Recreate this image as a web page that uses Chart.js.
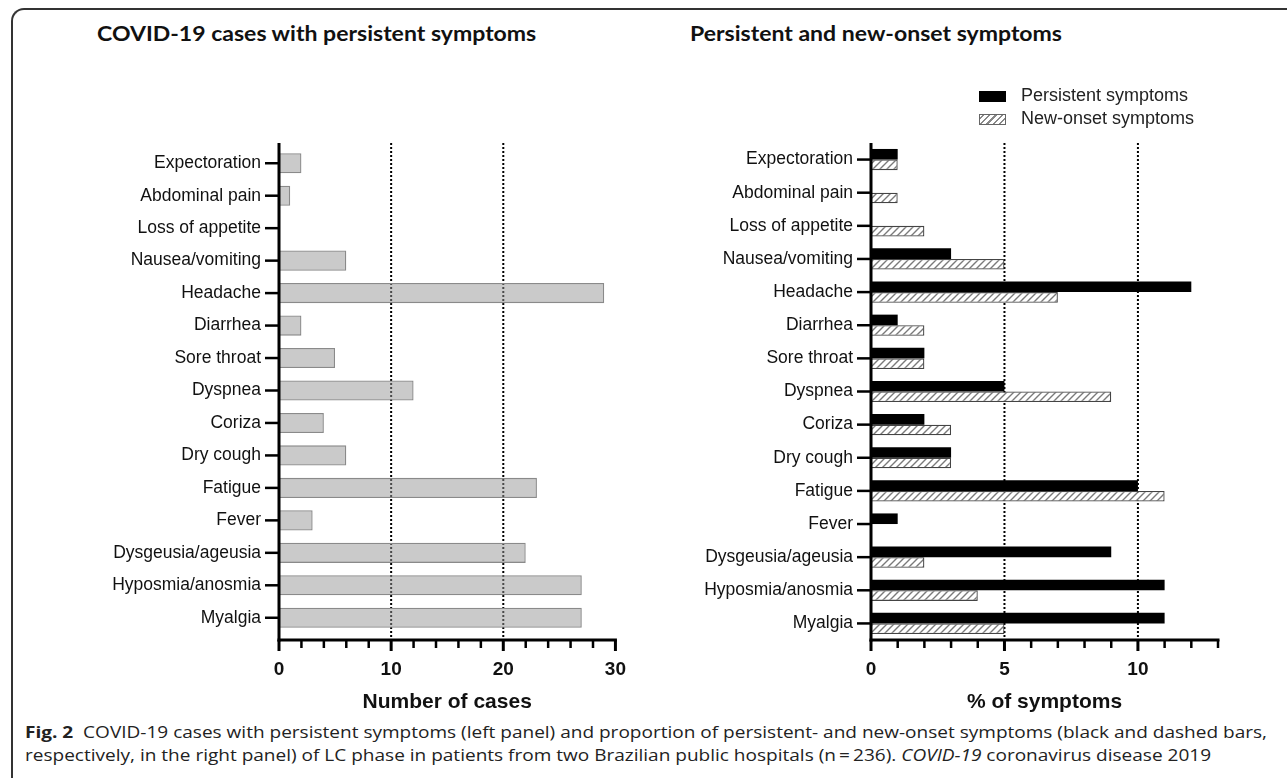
<!DOCTYPE html>
<html>
<head>
<meta charset="utf-8">
<script src="https://cdn.jsdelivr.net/npm/chart.js@4.4.0/dist/chart.umd.min.js"></script>
<style>
  body { margin:0; width:1287px; height:778px; background:#fff; position:relative; overflow:hidden; font-family:"Liberation Sans", Arial, sans-serif; }
  .frame { position:absolute; left:11px; top:8px; right:-10px; bottom:-10px; border-top:2px solid #333; border-left:2px solid #333; border-top-left-radius:13px; }
  .panel-title { position:absolute; top:22px; font-family:Lato, "Open Sans", sans-serif; font-weight:700; font-size:21px; line-height:21px; color:#111; white-space:nowrap; transform-origin:left top; }
  #box1 { position:absolute; left:0; top:0; width:650px; height:720px; }
  #box2 { position:absolute; left:650px; top:0; width:637px; height:720px; }
  .legend { position:absolute; left:979px; top:84px; font-size:18px; color:#222; line-height:23px; }
  .legend .sw { display:inline-block; width:27px; height:11px; margin-right:15px; vertical-align:-1px; box-sizing:border-box; }
  .sw.black { background:#000; }
  .sw.hatch { border:1.5px solid #666; background:repeating-linear-gradient(-45deg, #fff 0 3px, #888 3px 4.5px); }
  .caption { position:absolute; left:25px; top:721px; font-family:"Open Sans", sans-serif; font-size:16px; line-height:23px; color:#222; white-space:nowrap; transform-origin:left top; }
</style>
</head>
<body>
<div class="frame"></div>
<div class="panel-title" id="title1" style="left:97px">COVID-19 cases with persistent symptoms</div>
<div class="panel-title" id="title2" style="left:690px">Persistent and new-onset symptoms</div>
<div id="box1"><canvas id="leftChart"></canvas></div>
<div id="box2"><canvas id="rightChart"></canvas></div>
<div class="legend">
  <div><span class="sw black"></span>Persistent symptoms</div>
  <div><span class="sw hatch"></span>New-onset symptoms</div>
</div>
<div class="caption" id="caption"><b>Fig. 2</b>&nbsp; COVID-19 cases with persistent symptoms (left panel) and proportion of persistent- and new-onset symptoms (black and dashed bars,<br>respectively, in the right panel) of LC phase in patients from two Brazilian public hospitals (n&thinsp;=&thinsp;236). <i>COVID-19</i> coronavirus disease 2019</div>
<script>
  // ---- data ----
  const symptoms = ["Expectoration", "Abdominal pain", "Loss of appetite", "Nausea/vomiting", "Headache",
    "Diarrhea", "Sore throat", "Dyspnea", "Coriza", "Dry cough", "Fatigue", "Fever",
    "Dysgeusia/ageusia", "Hyposmia/anosmia", "Myalgia"];
  const numberOfCases = [2, 1, 0, 6, 29, 2, 5, 12, 4, 6, 23, 3, 22, 27, 27];
  const persistentPct = [1, 0, 0, 3, 12, 1, 2, 5, 2, 3, 10, 1, 9, 11, 11];
  const newOnsetPct = [1, 1, 2, 5, 7, 2, 2, 9, 3, 3, 11, 0, 2, 4, 5];

  const leftMajorTicks = [0, 10, 20, 30];
  const leftDottedLines = [10, 20];
  const rightMajorTicks = [0, 5, 10];
  const rightDottedLines = [5, 10];

  Chart.defaults.font.family = "'Liberation Sans', Arial, sans-serif";
  Chart.defaults.color = "#111";

  // hatch pattern for the new-onset bars
  function makeHatch() {
    const c = document.createElement("canvas");
    c.width = 7; c.height = 7;
    const g = c.getContext("2d");
    g.fillStyle = "#fff";
    g.fillRect(0, 0, 7, 7);
    g.strokeStyle = "#7a7a7a";
    g.lineWidth = 1.4;
    g.beginPath();
    g.moveTo(-1, 8); g.lineTo(8, -1);
    g.moveTo(-1, 1); g.lineTo(1, -1);
    g.moveTo(6, 8); g.lineTo(8, 6);
    g.stroke();
    return g.createPattern(c, "repeat");
  }

  // Prism-style axes: dotted grid, thick axis lines, outside ticks
  const prismAxes = {
    id: "prismAxes",
    beforeDatasetsDraw(chart, args, o) {
      const ctx = chart.ctx, x = chart.scales.x, a = chart.chartArea;
      const axisY = a.bottom + o.gap;
      ctx.save();
      ctx.strokeStyle = "#000";
      ctx.lineWidth = 2;
      ctx.setLineDash([2, 2]);
      o.dotted.forEach((v) => {
        const px = x.getPixelForValue(v);
        ctx.beginPath(); ctx.moveTo(px, o.top); ctx.lineTo(px, axisY); ctx.stroke();
      });
      ctx.restore();
    },
    afterDatasetsDraw(chart, args, o) {
      const ctx = chart.ctx, x = chart.scales.x, y = chart.scales.y, a = chart.chartArea;
      const axisY = a.bottom + o.gap;
      const line = (x1, y1, x2, y2) => { ctx.beginPath(); ctx.moveTo(x1, y1); ctx.lineTo(x2, y2); ctx.stroke(); };
      ctx.save();
      ctx.strokeStyle = "#000";
      ctx.lineWidth = 2.5;
      y.ticks.forEach((t, i) => {
        const py = y.getPixelForTick(i);
        line(a.left - 14, py, a.left, py);
      });
      for (let v = 0; v <= o.max; v += o.minorStep) {
        const px = x.getPixelForValue(v);
        const major = o.major.includes(v);
        ctx.lineWidth = major ? 3 : 2.5;
        line(px, axisY, px, axisY + (major ? 11 : 8));
      }
      ctx.lineWidth = 3;
      line(a.left, o.top, a.left, axisY + 1.5);
      line(a.left - 1.5, axisY, x.getPixelForValue(o.max) + 1.5, axisY);
      ctx.restore();
    }
  };

  const yScale = (width, pad) => ({
    grid: { display: false, drawTicks: false },
    border: { display: false },
    ticks: { autoSkip: false, padding: pad, font: { size: 17.5 }, color: "#111" },
    afterFit(s) { s.width = width; }
  });

  new Chart(document.getElementById("leftChart"), {
    type: "bar",
    data: {
      labels: symptoms,
      datasets: [{
        data: numberOfCases,
        backgroundColor: "rgba(150,150,150,0.5)",
        borderColor: "#8a8a8a",
        borderWidth: 1.3,
        barPercentage: 0.62,
        categoryPercentage: 1
      }]
    },
    options: {
      indexAxis: "y",
      responsive: true,
      maintainAspectRatio: false,
      animation: false,
      layout: { padding: { top: 147, right: 25, left: 0, bottom: 0 } },
      plugins: {
        legend: { display: false },
        tooltip: { enabled: false },
        prismAxes: { top: 143, gap: 6, dotted: leftDottedLines, major: leftMajorTicks, minorStep: 2, max: 30 }
      },
      scales: {
        x: {
          min: 0, max: 30,
          grid: { display: false, drawTicks: false },
          border: { display: false },
          ticks: { stepSize: 10, padding: 24, font: { size: 19, weight: "bold" }, color: "#111" },
          title: { display: true, text: "Number of cases", font: { size: 21, weight: "bold" }, color: "#111", padding: { top: 0, bottom: 5 } },
          afterFit(s) { s.height = 86; }
        },
        y: yScale(279, 18)
      }
    },
    plugins: [prismAxes]
  });

  new Chart(document.getElementById("rightChart"), {
    type: "bar",
    data: {
      labels: symptoms,
      datasets: [
        {
          label: "Persistent symptoms",
          data: persistentPct,
          backgroundColor: "#000",
          borderWidth: 0,
          barPercentage: 1,
          categoryPercentage: 0.64
        },
        {
          label: "New-onset symptoms",
          data: newOnsetPct,
          backgroundColor: makeHatch(),
          borderColor: "#444",
          borderWidth: 1.3,
          barPercentage: 1,
          categoryPercentage: 0.64
        }
      ]
    },
    options: {
      indexAxis: "y",
      responsive: true,
      maintainAspectRatio: false,
      animation: false,
      layout: { padding: { top: 143, right: 69, left: 0, bottom: 0 } },
      plugins: {
        legend: { display: false },
        tooltip: { enabled: false },
        prismAxes: { top: 143, gap: 0, dotted: rightDottedLines, major: rightMajorTicks, minorStep: 1, max: 13 }
      },
      scales: {
        x: {
          min: 0, max: 13,
          grid: { display: false, drawTicks: false },
          border: { display: false },
          ticks: { stepSize: 5, includeBounds: false, padding: 18, font: { size: 19, weight: "bold" }, color: "#111" },
          title: { display: true, text: "% of symptoms", font: { size: 21, weight: "bold" }, color: "#111", padding: { top: 0, bottom: 5 } },
          afterFit(s) { s.height = 80; }
        },
        y: yScale(221, 18)
      }
    },
    plugins: [prismAxes]
  });

  // squeeze text blocks to the widths of the original
  function scaleFor(id, target) {
    return target / document.getElementById(id).getBoundingClientRect().width;
  }
  const capScale = scaleFor("caption", 1242);
  document.getElementById("caption").style.transform = "scaleX(" + capScale + ")";
  const titleScale = scaleFor("title2", 372);
  document.getElementById("title1").style.transform = "scaleX(" + titleScale + ")";
  document.getElementById("title2").style.transform = "scaleX(" + titleScale + ")";
</script>
</body>
</html>
